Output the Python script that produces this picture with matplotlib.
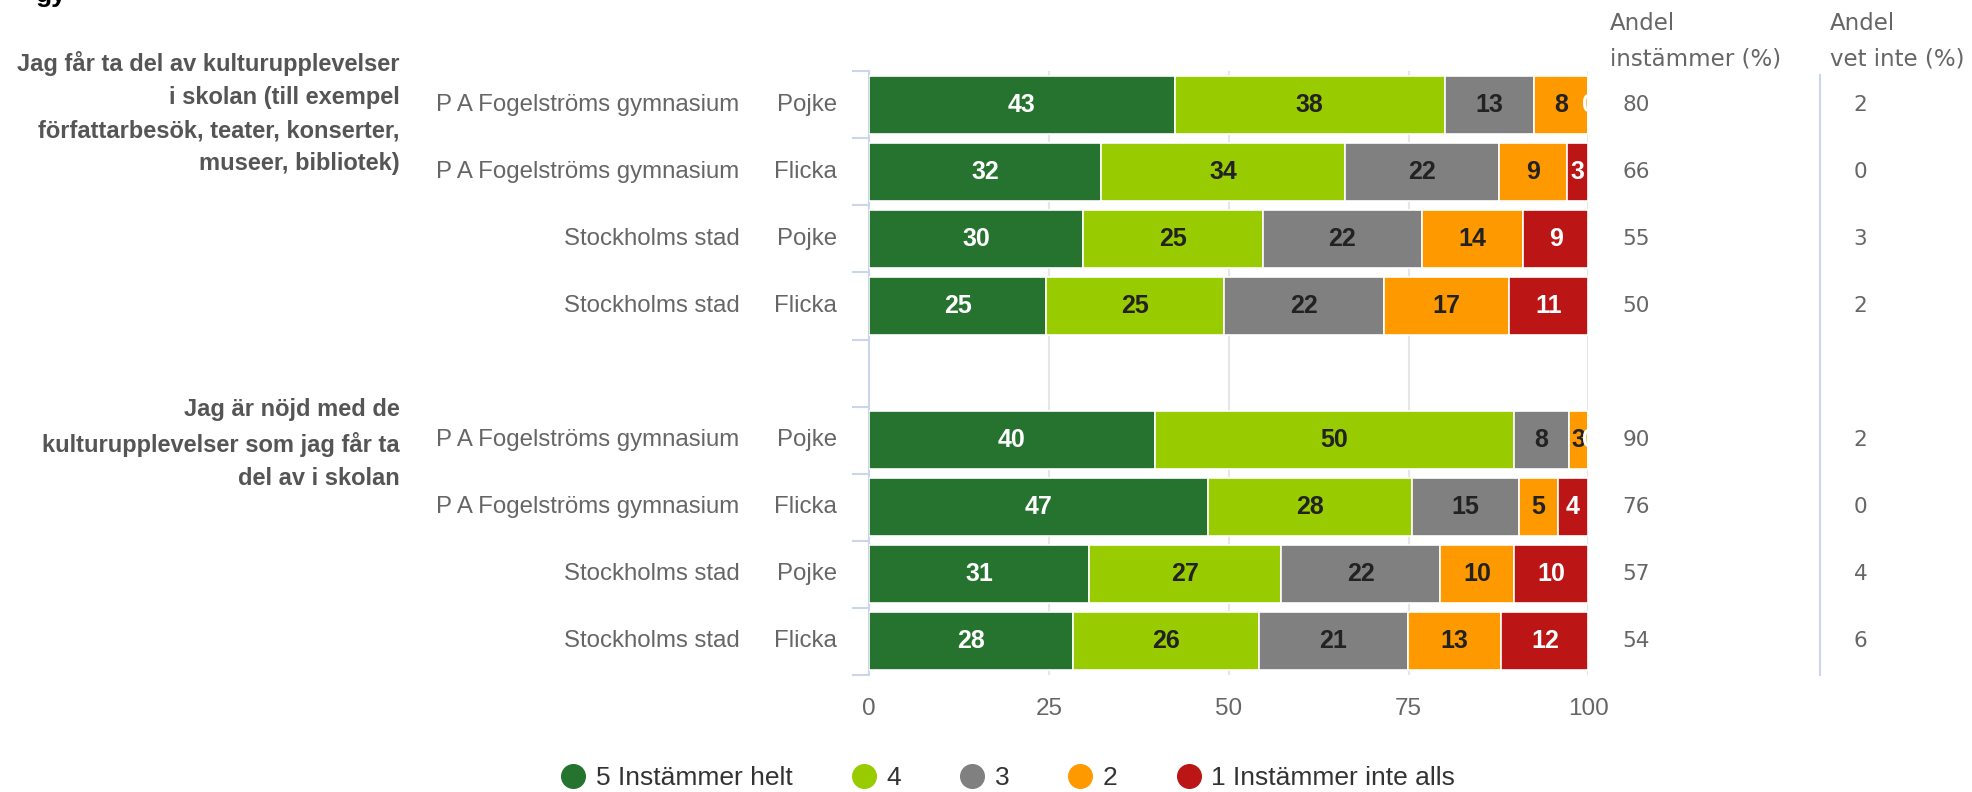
import matplotlib.pyplot as plt
from matplotlib.lines import Line2D

plt.rcParams['font.family'] = ['Liberation Sans', 'DejaVu Sans']

# data (percent of answers)
questions = ['Jag får ta del av kulturupplevelser\ni skolan (till exempel\nförfattarbesök, teater, konserter,\nmuseer, bibliotek)',
             'Jag är nöjd med de\nkulturupplevelser som jag får ta\ndel av i skolan']
schools = ['P A Fogelströms gymnasium', 'P A Fogelströms gymnasium', 'Stockholms stad', 'Stockholms stad']
genders = ['Pojke', 'Flicka', 'Pojke', 'Flicka']
categories = ['5 Instämmer helt', '4', '3', '2', '1 Instämmer inte alls']
colors = ['#26732f', '#99cc00', '#808080', '#ff9900', '#bb1515']
label_colors = ['white', '#222222', '#222222', '#222222', 'white']

q1_values = [[42.5, 37.5, 12.5, 7.5, 0.0],
             [32.3, 33.8, 21.5, 9.4, 3.0],
             [29.7, 25.0, 22.1, 14.1, 9.1],
             [24.6, 24.8, 22.2, 17.4, 11.0]]
q2_values = [[39.7, 50.0, 7.6, 2.7, 0.0],
             [47.1, 28.4, 14.8, 5.4, 4.3],
             [30.6, 26.7, 22.1, 10.2, 10.4],
             [28.3, 25.9, 20.7, 13.0, 12.1]]
q1_agree = [80, 66, 55, 50]
q2_agree = [90, 76, 57, 54]
q1_dontknow = [2, 0, 3, 2]
q2_dontknow = [2, 0, 4, 6]

rows = q1_values + [None] + q2_values
agree = q1_agree + [None] + q2_agree
dontknow = q1_dontknow + [None] + q2_dontknow
row_school = schools + [None] + schools
row_gender = genders + [None] + genders

fig = plt.figure(figsize=(19.72, 7.92), dpi=100)
ax = fig.add_axes([0.4407, 0.148, 0.3648, 0.762])

for i, vals in enumerate(rows):
    if vals is None:
        continue
    left = 0
    for j, v in enumerate(vals):
        ax.barh(i, v, left=left, height=0.865, color=colors[j], edgecolor='white', linewidth=1.2, zorder=3)
        ax.text(left + v / 2, i, str(int(v + 0.5)), ha='center', va='center', fontsize=18,
                fontweight='bold', color=label_colors[j], zorder=4, clip_on=True)
        left += v

ax.set_xlim(0, 100)
ax.set_ylim(8.5, -0.5)
ax.set_xticks([0, 25, 50, 75, 100])
ax.tick_params(axis='x', length=0, labelsize=17.5, labelcolor='#666666', pad=17)
ax.set_yticks([i - 0.5 for i in range(10)])
ax.set_yticklabels([])
ax.tick_params(axis='y', length=12, color='#ccd6eb', width=1.5)
ax.grid(axis='x', color='#e6e6e6', linewidth=1.5, zorder=0)
for s in ['top', 'right', 'bottom']:
    ax.spines[s].set_visible(False)
ax.spines['left'].set_color('#ccd6eb')
ax.spines['left'].set_linewidth(1.5)

# row labels and the two value columns
for i in range(len(rows)):
    if rows[i] is None:
        continue
    ax.text(-0.180, i, row_school[i], transform=ax.get_yaxis_transform(), ha='right', va='center',
            fontsize=17.3, color='#666666')
    ax.text(-0.045, i, row_gender[i], transform=ax.get_yaxis_transform(), ha='right', va='center',
            fontsize=17.3, color='#666666')
    ax.text(1.047, i, str(agree[i]), transform=ax.get_yaxis_transform(), ha='left', va='center',
            fontsize=15.5, color='#666666', family='DejaVu Sans')
    ax.text(1.378, i, str(dontknow[i]), transform=ax.get_yaxis_transform(), ha='center', va='center',
            fontsize=15.5, color='#666666', family='DejaVu Sans')

fig.text(0.2028, 0.935, questions[0], ha='right', va='top', fontsize=17, fontweight='bold',
         color='#555555', linespacing=1.55)
fig.text(0.2028, 0.497, questions[1], ha='right', va='top', fontsize=17, fontweight='bold',
         color='#555555', linespacing=1.55)

fig.text(0.8163, 0.948, 'Andel\ninstämmer (%)', ha='left', va='center', fontsize=16.5,
         color='#666666', family='DejaVu Sans', linespacing=1.65)
fig.text(0.928, 0.948, 'Andel\nvet inte (%)', ha='left', va='center', fontsize=16.5,
         color='#666666', family='DejaVu Sans', linespacing=1.65)
fig.add_artist(Line2D([0.9228, 0.9228], [0.148, 0.905], color='#ccd6eb', linewidth=1.5))

# cut-off title remnant at the top
fig.text(0.018, 0.997, 'gy', ha='left', va='baseline', fontsize=19, fontweight='bold', color='black')

handles = [Line2D([], [], marker='o', linestyle='', markersize=17, markerfacecolor=c, markeredgecolor=c)
           for c in colors]
fig.legend(handles, categories, loc='center', bbox_to_anchor=(0.511, 0.0175), ncol=5, frameon=False,
           fontsize=19, labelcolor='#333333', handlelength=1.0, handletextpad=0.35, columnspacing=2.2)

fig.savefig('out.png', dpi=100)
